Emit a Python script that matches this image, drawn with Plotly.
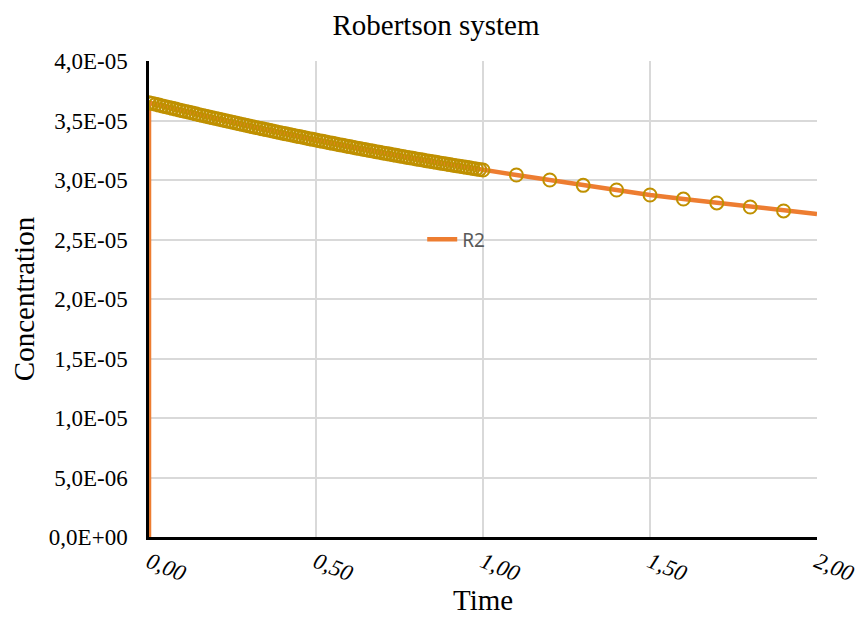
import plotly.graph_objects as go

t_dense = [round(i * 0.01, 2) for i in range(101)]
c_dense = [3.6500, 3.6431, 3.6362, 3.6294, 3.6226, 3.6158, 3.6091, 3.6023, 3.5956, 3.5889,
           3.5822, 3.5756, 3.5690, 3.5624, 3.5558, 3.5493, 3.5428, 3.5363, 3.5298, 3.5234,
           3.5170, 3.5106, 3.5042, 3.4979, 3.4915, 3.4853, 3.4790, 3.4727, 3.4665, 3.4603,
           3.4542, 3.4480, 3.4419, 3.4358, 3.4297, 3.4237, 3.4177, 3.4117, 3.4057, 3.3998,
           3.3938, 3.3879, 3.3821, 3.3762, 3.3704, 3.3646, 3.3588, 3.3531, 3.3474, 3.3417,
           3.3360, 3.3304, 3.3247, 3.3191, 3.3136, 3.3080, 3.3025, 3.2970, 3.2915, 3.2861,
           3.2806, 3.2752, 3.2699, 3.2645, 3.2592, 3.2539, 3.2486, 3.2434, 3.2381, 3.2329,
           3.2278, 3.2226, 3.2175, 3.2124, 3.2073, 3.2023, 3.1972, 3.1922, 3.1872, 3.1823,
           3.1774, 3.1725, 3.1676, 3.1627, 3.1579, 3.1531, 3.1483, 3.1436, 3.1388, 3.1341,
           3.1294, 3.1248, 3.1202, 3.1155, 3.1110, 3.1064, 3.1019, 3.0974, 3.0929, 3.0884,
           3.0840]
t_sparse = [1.1, 1.2, 1.3, 1.4, 1.5, 1.6, 1.7, 1.8, 1.9]
c_sparse = [3.042, 3.000, 2.955, 2.916, 2.874, 2.840, 2.807, 2.773, 2.740]
t_end = [2.0]
c_end = [2.714]

# R2 line starts at zero concentration at t=0
t_line_start = [0.0]
c_line_start = [0.0]

scale = 1e-5
y_tickvals = [0, 5e-6, 1e-5, 1.5e-5, 2e-5, 2.5e-5, 3e-5, 3.5e-5, 4e-5]
y_ticktext = ["0,0E+00", "5,0E-06", "1,0E-05", "1,5E-05", "2,0E-05",
              "2,5E-05", "3,0E-05", "3,5E-05", "4,0E-05"]
x_tickvals = [0, 0.5, 1.0, 1.5, 2.0]
x_ticktext = ["0,00", "0,50", "1,00", "1,50", "2,00"]

t_marks = t_dense + t_sparse
c_marks = [v * scale for v in c_dense + c_sparse]
t_line = t_line_start + t_marks + t_end
c_line = [v * scale for v in c_line_start] + c_marks + [v * scale for v in c_end]

fig = go.Figure()
fig.add_trace(go.Scatter(
    x=t_line, y=c_line, mode="lines", name="R2",
    line=dict(color="#ED7D31", width=4.5),
))
fig.add_trace(go.Scatter(
    x=t_marks, y=c_marks, mode="markers", showlegend=False,
    marker=dict(symbol="circle-open", size=13, color="#BF9000",
                line=dict(width=2, color="#BF9000")),
))

serif = "Liberation Serif, Times New Roman, serif"
fig.update_layout(
    width=860, height=619,
    margin=dict(l=149, r=43, t=61, b=82),
    paper_bgcolor="white", plot_bgcolor="white",
    title=dict(text="Robertson system", x=0.507, xanchor="center", y=0.96,
               yanchor="middle", font=dict(family=serif, size=29, color="black")),
    showlegend=True,
    legend=dict(x=0.409, y=0.625, xanchor="left", yanchor="middle",
                bgcolor="rgba(0,0,0,0)",
                font=dict(family="Noto Sans, Liberation Sans, sans-serif", size=19, color="#595959")),
    xaxis=dict(range=[0, 2], tickvals=x_tickvals, ticktext=x_ticktext,
               tickangle=22, tickfont=dict(family=serif, size=23, color="black", style="italic"),
               showgrid=True, gridcolor="#D9D9D9", gridwidth=1.5,
               showline=True, linecolor="black", linewidth=2.5,
               zeroline=False, ticks="", automargin=False),
    yaxis=dict(range=[0, 4e-5], tickvals=y_tickvals, ticktext=y_ticktext,
               tickfont=dict(family=serif, size=23, color="black"),
               showgrid=True, gridcolor="#D9D9D9", gridwidth=1.5,
               showline=True, linecolor="black", linewidth=2.5,
               zeroline=False, ticks="", ticklabelstandoff=14, automargin=False,
               title=dict(text="Concentration", font=dict(family=serif, size=29, color="black"), standoff=6)),
    annotations=[dict(text="Time", xref="paper", yref="paper", x=0.5, y=-0.171,
                      xanchor="center", yanchor="bottom", showarrow=False,
                      font=dict(family=serif, size=29, color="black"))],
)

fig.write_html("out.html", config={"displayModeBar": False},
               post_script="document.body.style.margin='0';document.body.style.overflow='hidden';")
